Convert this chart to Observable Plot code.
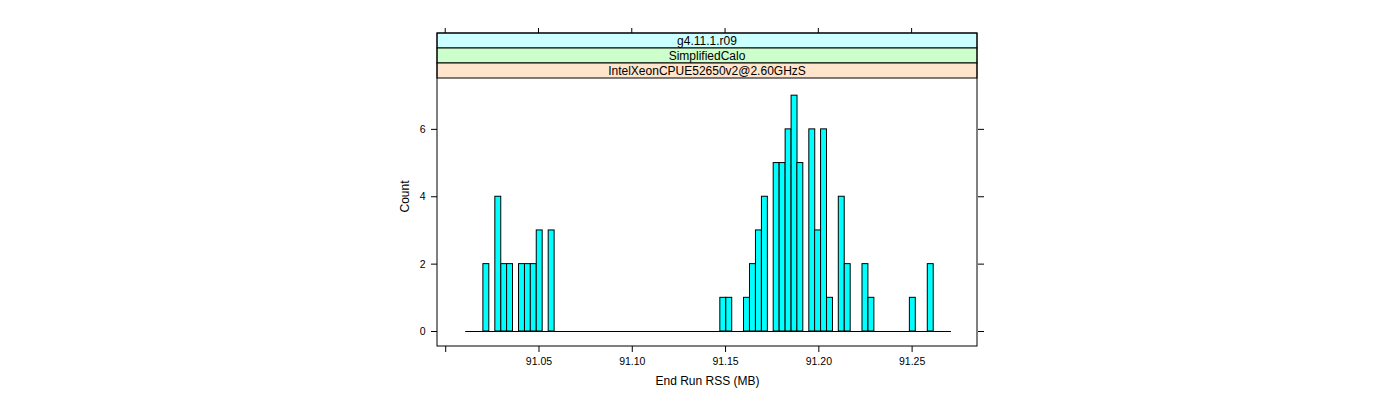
<!DOCTYPE html>
<html>
<head>
<meta charset="utf-8">
<script src="https://cdn.jsdelivr.net/npm/d3@7"></script>
<script src="https://cdn.jsdelivr.net/npm/@observablehq/plot@0.6"></script>
<style>
  html, body { margin: 0; padding: 0; background: #fff; }
  svg { font-family: "Liberation Sans", Arial, sans-serif; }
</style>
</head>
<body>
<div id="chart"></div>
<script>
// ---- data ----
const binLo = [91.0202, 91.0266, 91.0298, 91.0329, 91.0393, 91.0425, 91.0456, 91.0488, 91.0552,
               91.1472, 91.1504, 91.1599, 91.1631, 91.1663, 91.1695, 91.1758, 91.1790, 91.1822,
               91.1854, 91.1885, 91.1949, 91.1980, 91.2012, 91.2044, 91.2107, 91.2139, 91.2234,
               91.2266, 91.2488, 91.2584];
const counts = [2, 4, 2, 2, 2, 2, 2, 3, 3,
                1, 1, 1, 2, 3, 4, 5, 5, 6,
                7, 5, 6, 3, 6, 1, 4, 2, 2,
                1, 1, 2];
const binWidth = 0.003175;
const breakMin = 91.0107;
const breakMax = 91.2711;
const xTicks = [91.00, 91.05, 91.10, 91.15, 91.20, 91.25];
const xTickLabels = ["", "91.05", "91.10", "91.15", "91.20", "91.25"];
const yTicks = [0, 2, 4, 6];
const stripLabels = ["g4.11.1.r09", "SimplifiedCalo", "IntelXeonCPUE52650v2@2.60GHzS"];
const stripColors = ["#ccffff", "#ccffcc", "#ffe5cc"];
const xLabel = "End Run RSS (MB)";
const yLabel = "Count";

const bins = binLo.map((lo, i) => ({lo, hi: lo + binWidth, count: counts[i]}));

const stripH = 15;

function decorations(index, scales, values, dims) {
  const g = d3.create("svg:g");
  const x0 = dims.marginLeft, x1 = dims.width - dims.marginRight;
  const top = dims.marginTop - stripH * stripLabels.length;
  const bottom = dims.height - dims.marginBottom;
  stripLabels.forEach((s, i) => {
    const y = top + i * stripH;
    g.append("rect").attr("x", x0).attr("y", y).attr("width", x1 - x0).attr("height", stripH)
      .attr("fill", stripColors[i]).attr("stroke", "#000").attr("stroke-width", 1);
    g.append("text").attr("x", (x0 + x1) / 2).attr("y", y + stripH / 2)
      .attr("text-anchor", "middle").attr("dy", "0.35em")
      .attr("font-size", 12).attr("fill", "#000").text(s);
  });
  // top ticks
  xTicks.forEach(t => {
    const x = scales.x(t);
    g.append("line").attr("x1", x).attr("x2", x).attr("y1", top).attr("y2", top - 5)
      .attr("stroke", "#000");
  });
  // frame
  g.append("rect").attr("x", x0).attr("y", top).attr("width", x1 - x0).attr("height", bottom - top)
    .attr("fill", "none").attr("stroke", "#000").attr("stroke-width", 1);
  return g.node();
}

const chart = Plot.plot({
  width: 1400,
  height: 400,
  marginLeft: 437,
  marginRight: 423,
  marginTop: 78,
  marginBottom: 54,
  style: {fontFamily: "Liberation Sans, Arial, sans-serif", background: "#fff"},
  x: {domain: [90.99560, 91.28505]},
  y: {domain: [-0.445, 7.51]},
  marks: [
    Plot.ruleY([0], {x1: breakMin, x2: breakMax, y: 0, stroke: "#000", strokeWidth: 1}),
    Plot.rectY(bins, {x1: "lo", x2: "hi", y: "count", fill: "#00ffff", stroke: "#000", strokeWidth: 1}),
    Plot.axisX({anchor: "bottom", ticks: xTicks, tickSize: 6, tickPadding: 5,
      tickFormat: (d, i) => xTickLabels[xTicks.indexOf(d)], fontSize: 10.5, label: null}),
    Plot.axisY({anchor: "left", ticks: yTicks, tickSize: 6, tickPadding: 6,
      tickFormat: d => String(d), fontSize: 10.5, label: null}),
    Plot.axisY({anchor: "right", ticks: yTicks, tickSize: 6, tickFormat: () => "", label: null}),
    Plot.text([xLabel], {frameAnchor: "bottom", dy: 38, text: d => d, fontSize: 12, fill: "#000"}),
    Plot.text([yLabel], {frameAnchor: "left", dx: -32, rotate: -90, text: d => d, fontSize: 12, fill: "#000"}),
    decorations
  ]
});
document.getElementById("chart").appendChild(chart);
</script>
</body>
</html>
